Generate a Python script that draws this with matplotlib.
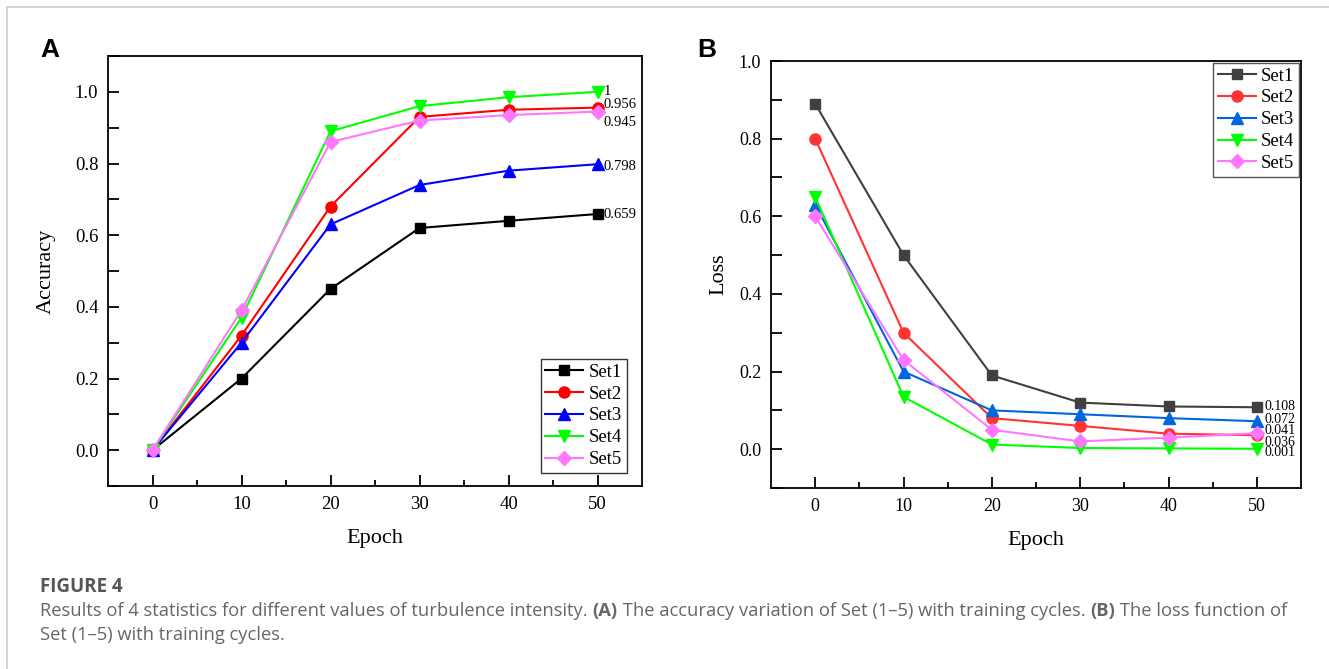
import numpy as np
import matplotlib
matplotlib.use('Agg')
import matplotlib.pyplot as plt
from matplotlib.lines import Line2D

W, H = 1329, 669

epochs = [0, 10, 20, 30, 40, 50]
sets = ['Set1', 'Set2', 'Set3', 'Set4', 'Set5']

acc_set1 = [0.0, 0.20, 0.45, 0.62, 0.64, 0.659]
acc_set2 = [0.0, 0.32, 0.68, 0.93, 0.95, 0.956]
acc_set3 = [0.0, 0.30, 0.63, 0.74, 0.78, 0.798]
acc_set4 = [0.0, 0.37, 0.89, 0.96, 0.985, 1.0]
acc_set5 = [0.0, 0.39, 0.86, 0.92, 0.935, 0.945]
acc_labels = ['0.659', '0.956', '0.798', '1', '0.945']

loss_set1 = [0.89, 0.50, 0.19, 0.12, 0.11, 0.108]
loss_set2 = [0.80, 0.30, 0.08, 0.06, 0.04, 0.036]
loss_set3 = [0.63, 0.20, 0.10, 0.09, 0.08, 0.072]
loss_set4 = [0.65, 0.135, 0.012, 0.003, 0.002, 0.001]
loss_set5 = [0.60, 0.23, 0.05, 0.02, 0.03, 0.041]
loss_labels = ['0.108', '0.036', '0.072', '0.001', '0.041']

markers = ['s', 'o', '^', 'v', 'D']
msizes = [7, 8, 8, 8, 7]
colors_a = ['#000000', '#ff0000', '#0000ff', '#00ff00', '#ff77ff']
colors_b = ['#404040', '#ff3333', '#0066dd', '#00ff00', '#ff77ff']

# label offsets (pixels) for end-of-line value labels
acc_dy = [0, 3, -2, 0, -11]
loss_dy = [1, -7, 2, -4, 3]

serif = ['Liberation Serif', 'DejaVu Serif']
plt.rcParams['font.family'] = serif

fig = plt.figure(figsize=(W / 100, H / 100), dpi=100)


def style_axes(ax, ylim, yticks, fs):
    ax.set_xlim(-5, 55)
    ax.set_ylim(*ylim)
    ax.set_xticks(epochs)
    ax.set_xticks([5, 15, 25, 35, 45], minor=True)
    ax.set_yticks(yticks)
    ax.set_yticks(np.round(np.arange(ylim[0], ylim[1] + 0.001, 0.1), 2), minor=True)
    ax.tick_params(which='both', direction='in', top=False, right=False,
                   width=1.3, labelsize=fs, pad=7)
    ax.tick_params(which='major', length=8)
    ax.tick_params(which='minor', length=4.5)
    ax.tick_params(axis='y', which='minor', length=8)
    for s in ax.spines.values():
        s.set_linewidth(1.3)
    ax.yaxis.set_major_formatter(matplotlib.ticker.FormatStrFormatter('%.1f'))


# ---- panel A ----
axA = fig.add_axes([108 / W, 1 - 486 / H, (642 - 108) / W, (486 - 56) / H])
acc = [acc_set1, acc_set2, acc_set3, acc_set4, acc_set5]
for i in range(5):
    axA.plot(epochs, acc[i], color=colors_a[i], marker=markers[i], ms=msizes[i],
             lw=1.5, label=sets[i])
    axA.annotate(acc_labels[i], (epochs[-1], acc[i][-1]), xytext=(6, acc_dy[i]),
                 textcoords='offset pixels', va='center', ha='left', fontsize=10.5)
style_axes(axA, (-0.1, 1.1), np.arange(0, 1.01, 0.2), 13.5)
axA.set_xlabel('Epoch', fontsize=16)
axA.set_ylabel('Accuracy', fontsize=16)
axA.yaxis.set_label_coords(-0.097, 0.5)
axA.xaxis.set_label_coords(0.5, -0.1)
axA.legend(loc='lower right', bbox_to_anchor=(0.978, 0.022), fontsize=13.5,
           fancybox=False, edgecolor='#333333', framealpha=1, handlelength=2.0,
           borderpad=0.25, labelspacing=0.25, handletextpad=0.3, borderaxespad=0.2)

# ---- panel B ----
axB = fig.add_axes([771 / W, 1 - 488 / H, (1301 - 771) / W, (488 - 61) / H])
loss = [loss_set1, loss_set2, loss_set3, loss_set4, loss_set5]
for i in range(5):
    axB.plot(epochs, loss[i], color=colors_b[i], marker=markers[i], ms=msizes[i],
             lw=1.5, label=sets[i])
    axB.annotate(loss_labels[i], (epochs[-1], loss[i][-1]), xytext=(8, loss_dy[i]),
                 textcoords='offset pixels', va='center', ha='left', fontsize=10)
style_axes(axB, (-0.1, 1.0), np.arange(0, 1.01, 0.2), 13)
axB.set_xlabel('Epoch', fontsize=16)
axB.set_ylabel('Loss', fontsize=16)
axB.yaxis.set_label_coords(-0.08, 0.5)
axB.xaxis.set_label_coords(0.5, -0.1)
axB.legend(loc='upper right', bbox_to_anchor=(1.0, 1.0), fontsize=13.5,
           fancybox=False, edgecolor='#555555', framealpha=1, handlelength=2.0,
           borderpad=0.25, labelspacing=0.25, handletextpad=0.3, borderaxespad=0.1)

# panel letters
fig.text(40 / W, 1 - 50 / H, 'A', fontsize=19, fontweight='bold',
         family=['Liberation Sans', 'DejaVu Sans'], va='center', ha='left')
fig.text(697 / W, 1 - 50 / H, 'B', fontsize=19, fontweight='bold',
         family=['Liberation Sans', 'DejaVu Sans'], va='center', ha='left')

# card border
fig.add_artist(Line2D([7 / W, 7 / W], [0, 1 - 7 / H], color='#d4d4d4', lw=1.5))
fig.add_artist(Line2D([7 / W, 1], [1 - 7 / H, 1 - 7 / H], color='#d4d4d4', lw=1.5))

# caption
cap_font = ['Open Sans', 'DejaVu Sans']
fig.text(40 / W, 1 - 592 / H, 'FIGURE 4', fontsize=13.5, fontweight='bold',
         color='#555555', family=cap_font, va='baseline')

line1 = [('Results of 4 statistics for different values of turbulence intensity. ', 'normal'),
         ('(A)', 'bold'),
         (' The accuracy variation of Set (1\u20135) with training cycles. ', 'normal'),
         ('(B)', 'bold'),
         (' The loss function of', 'normal')]
fig.canvas.draw()
renderer = fig.canvas.get_renderer()
x = 40
for txt, wgt in line1:
    t = fig.text(x / W, 1 - 616 / H, txt, fontsize=13.2, fontweight=wgt,
                 color='#666666', family=cap_font, va='baseline')
    bb = t.get_window_extent(renderer)
    x += bb.width
fig.text(40 / W, 1 - 640 / H, 'Set (1\u20135) with training cycles.', fontsize=13.2,
         color='#666666', family=cap_font, va='baseline')

fig.savefig('out.png', dpi=100)
